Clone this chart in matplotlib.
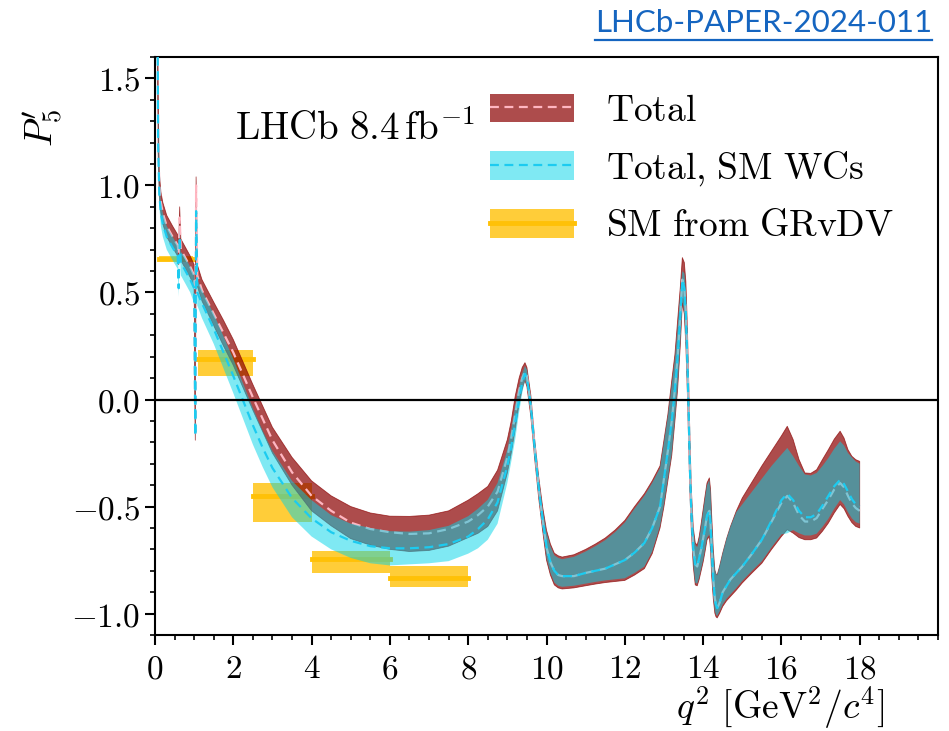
import numpy as np
import matplotlib
matplotlib.use("Agg")
import matplotlib.pyplot as plt
from matplotlib.patches import Patch
from matplotlib.lines import Line2D
from matplotlib.ticker import MultipleLocator, FuncFormatter, FixedLocator

plt.rcParams['mathtext.fontset'] = 'cm'
plt.rcParams['font.family'] = ['DejaVu Serif']

# ---------------- data ----------------
q2 = [0.05, 0.08, 0.11, 0.15, 0.2, 0.3, 0.45, 0.58, 0.605, 0.63, 0.66, 0.75, 0.9, 1.0,
      1.03, 1.05, 1.08, 1.2, 1.5, 1.75, 2.0, 2.25, 2.5, 2.75, 3.0, 3.5, 4.0, 4.5, 5.0, 5.5,
      6.0, 6.5, 7.0, 7.5, 8.0, 8.25, 8.5, 8.75, 9.0, 9.1, 9.2, 9.3, 9.38, 9.45, 9.5, 9.6,
      9.7, 9.8, 9.9, 10.0, 10.1, 10.2, 10.3, 10.4, 10.7, 11.0, 11.25, 11.5, 11.75, 12.0,
      12.25, 12.5, 12.7, 12.9, 13.0, 13.1, 13.2, 13.28, 13.35, 13.42, 13.47, 13.52, 13.56,
      13.6, 13.63, 13.66, 13.7, 13.75, 13.8, 13.85, 13.9, 13.95, 14.0, 14.05, 14.1, 14.16,
      14.19, 14.22, 14.26, 14.3, 14.33, 14.36, 14.42, 14.5, 14.6, 14.7, 14.85, 15.0, 15.25,
      15.5, 15.75, 16.0, 16.15, 16.3, 16.45, 16.6, 16.75, 16.9, 17.05, 17.2, 17.35, 17.5,
      17.6, 17.7, 17.8, 17.9, 18.0]

total_c = [2.4, 1.25, 1.00, 0.92, 0.87, 0.81, 0.76, 0.72, 0.68, 0.85, 0.70, 0.67, 0.62, 0.58,
           -0.17, 1.00, 0.58, 0.51, 0.40, 0.31, 0.22, 0.115, 0.01, -0.09, -0.19, -0.34, -0.45, -0.52, -0.575, -0.605,
           -0.62, -0.628, -0.625, -0.605, -0.57, -0.54, -0.50, -0.43, -0.27, -0.18, -0.07, 0.04, 0.10, 0.13, 0.11, -0.03,
           -0.23, -0.41, -0.56, -0.69, -0.76, -0.80, -0.82, -0.825, -0.825, -0.81, -0.80, -0.79, -0.77, -0.75,
           -0.715, -0.67, -0.60, -0.50, -0.37, -0.24, -0.10, 0.05, 0.20, 0.40, 0.56, 0.52, 0.40,
           0.17, -0.05, -0.30, -0.53, -0.70, -0.77, -0.78, -0.74, -0.70, -0.65, -0.60, -0.54, -0.52,
           -0.58, -0.70, -0.84, -0.93, -0.96, -0.975, -0.95, -0.90, -0.87, -0.84, -0.81, -0.78, -0.72,
           -0.655, -0.57, -0.483, -0.45, -0.483, -0.54, -0.57, -0.57, -0.554, -0.51, -0.468, -0.42, -0.39,
           -0.41, -0.45, -0.485, -0.507, -0.52]
total_lo = [2.3, 1.15, 0.95, 0.87, 0.82, 0.76, 0.71, 0.67, 0.63, 0.78, 0.65, 0.62, 0.57, 0.53,
            -0.19, 0.95, 0.53, 0.46, 0.345, 0.25, 0.16, 0.055, -0.05, -0.15, -0.25, -0.40, -0.52, -0.59, -0.65, -0.68,
            -0.70, -0.71, -0.705, -0.685, -0.645, -0.625, -0.593, -0.52, -0.343, -0.25, -0.14, -0.02, 0.05, 0.09, 0.06, -0.08,
            -0.28, -0.46, -0.61, -0.75, -0.82, -0.866, -0.88, -0.885, -0.88, -0.87, -0.862, -0.855, -0.85, -0.845,
            -0.82, -0.79, -0.72, -0.60, -0.50, -0.38, -0.26, -0.10, 0.05, 0.26, 0.45, 0.40, 0.25,
            0.02, -0.20, -0.42, -0.62, -0.78, -0.866, -0.87, -0.84, -0.80, -0.76, -0.71, -0.655, -0.64,
            -0.70, -0.827, -0.93, -0.998, -1.015, -1.02, -1.0, -0.967, -0.94, -0.92, -0.89, -0.857, -0.81,
            -0.765, -0.70, -0.64, -0.608, -0.624, -0.645, -0.655, -0.655, -0.647, -0.615, -0.577, -0.53, -0.49,
            -0.51, -0.546, -0.575, -0.593, -0.60]
total_hi = [2.5, 1.40, 1.06, 0.97, 0.92, 0.86, 0.81, 0.77, 0.72, 0.90, 0.75, 0.72, 0.67, 0.63,
            -0.15, 1.04, 0.63, 0.56, 0.455, 0.37, 0.28, 0.175, 0.07, -0.03, -0.13, -0.27, -0.38, -0.45, -0.50, -0.53,
            -0.545, -0.546, -0.54, -0.52, -0.47, -0.44, -0.406, -0.33, -0.187, -0.10, 0.015, 0.10, 0.15, 0.172, 0.15, 0.02,
            -0.19, -0.36, -0.50, -0.61, -0.675, -0.718, -0.73, -0.736, -0.725, -0.70, -0.675, -0.647, -0.61, -0.565,
            -0.50, -0.44, -0.38, -0.31, -0.19, -0.07, 0.09, 0.21, 0.37, 0.53, 0.663, 0.64, 0.55,
            0.33, 0.10, -0.15, -0.42, -0.60, -0.67, -0.68, -0.64, -0.58, -0.515, -0.45, -0.39, -0.366,
            -0.42, -0.546, -0.70, -0.796, -0.815, -0.82, -0.78, -0.718, -0.65, -0.593, -0.52, -0.46, -0.385,
            -0.31, -0.24, -0.17, -0.125, -0.187, -0.28, -0.343, -0.345, -0.328, -0.28, -0.234, -0.185, -0.148,
            -0.18, -0.234, -0.265, -0.281, -0.289]

smwc_c = [2.35, 1.20, 0.96, 0.87, 0.82, 0.76, 0.71, 0.67, 0.52, 0.76, 0.64, 0.61, 0.56, 0.52,
          -0.17, 0.88, 0.50, 0.45, 0.33, 0.22, 0.11, -0.005, -0.12, -0.225, -0.32, -0.46, -0.555, -0.62, -0.66, -0.685,
          -0.695, -0.695, -0.69, -0.675, -0.64, -0.605, -0.56, -0.48, -0.31, -0.22, -0.11, 0.0, 0.08, 0.12, 0.10, -0.03,
          -0.23, -0.41, -0.56, -0.685, -0.76, -0.80, -0.82, -0.825, -0.825, -0.81, -0.80, -0.79, -0.77, -0.75,
          -0.715, -0.67, -0.60, -0.50, -0.37, -0.24, -0.10, 0.05, 0.20, 0.40, 0.56, 0.52, 0.40,
          0.17, -0.05, -0.30, -0.53, -0.70, -0.77, -0.78, -0.74, -0.70, -0.65, -0.60, -0.54, -0.52,
          -0.58, -0.70, -0.84, -0.93, -0.96, -0.975, -0.95, -0.90, -0.87, -0.84, -0.81, -0.78, -0.72,
          -0.655, -0.565, -0.47, -0.44, -0.47, -0.52, -0.55, -0.55, -0.535, -0.495, -0.45, -0.405, -0.375,
          -0.395, -0.43, -0.465, -0.49, -0.50]
smwc_lo = [2.2, 1.08, 0.90, 0.81, 0.76, 0.70, 0.65, 0.61, 0.48, 0.72, 0.58, 0.55, 0.50, 0.45,
           -0.19, 0.84, 0.44, 0.38, 0.26, 0.145, 0.03, -0.09, -0.21, -0.315, -0.41, -0.55, -0.64, -0.70, -0.74, -0.765,
           -0.775, -0.77, -0.765, -0.755, -0.72, -0.695, -0.655, -0.58, -0.39, -0.29, -0.187, -0.06, 0.03, 0.09, 0.07, -0.07,
           -0.27, -0.45, -0.60, -0.74, -0.81, -0.855, -0.87, -0.875, -0.87, -0.86, -0.852, -0.845, -0.84, -0.835,
           -0.81, -0.78, -0.71, -0.59, -0.49, -0.37, -0.25, -0.09, 0.06, 0.27, 0.46, 0.41, 0.26,
           0.03, -0.19, -0.41, -0.61, -0.77, -0.856, -0.86, -0.83, -0.79, -0.75, -0.70, -0.645, -0.63,
           -0.69, -0.817, -0.92, -0.988, -1.005, -1.01, -0.99, -0.957, -0.93, -0.91, -0.88, -0.847, -0.80,
           -0.755, -0.69, -0.63, -0.625, -0.61, -0.625, -0.635, -0.635, -0.627, -0.595, -0.557, -0.51, -0.47,
           -0.49, -0.526, -0.555, -0.573, -0.58]
smwc_hi = [2.5, 1.35, 1.02, 0.92, 0.87, 0.81, 0.76, 0.72, 0.56, 0.80, 0.69, 0.67, 0.62, 0.58,
           -0.15, 0.91, 0.56, 0.51, 0.40, 0.295, 0.19, 0.075, -0.04, -0.145, -0.24, -0.38, -0.47, -0.54, -0.58, -0.60,
           -0.615, -0.617, -0.61, -0.59, -0.545, -0.51, -0.468, -0.39, -0.234, -0.14, -0.03, 0.06, 0.12, 0.156, 0.14, 0.01,
           -0.20, -0.37, -0.51, -0.62, -0.685, -0.728, -0.74, -0.746, -0.735, -0.71, -0.685, -0.657, -0.62, -0.575,
           -0.51, -0.45, -0.39, -0.32, -0.20, -0.08, 0.07, 0.19, 0.34, 0.50, 0.60, 0.59, 0.51,
           0.30, 0.08, -0.16, -0.43, -0.61, -0.68, -0.69, -0.65, -0.59, -0.525, -0.46, -0.40, -0.376,
           -0.43, -0.556, -0.705, -0.796, -0.815, -0.82, -0.78, -0.718, -0.65, -0.593, -0.525, -0.49, -0.43,
           -0.37, -0.31, -0.257, -0.226, -0.265, -0.31, -0.35, -0.355, -0.343, -0.31, -0.273, -0.23, -0.195,
           -0.215, -0.25, -0.27, -0.29, -0.30]

bin_lo = [0.1, 1.1, 2.5, 4.0, 6.0]
bin_hi = [0.98, 2.5, 4.0, 6.0, 8.0]
sm_c = [0.655, 0.19, -0.449, -0.744, -0.833]
sm_lo = [0.645, 0.108, -0.571, -0.81, -0.876]
sm_hi = [0.67, 0.229, -0.389, -0.707, -0.777]

# ---------------- figure ----------------
W, H = 949, 731
fig = plt.figure(figsize=(W / 100, H / 100), dpi=100)
ax = fig.add_axes([155 / W, 1 - 635 / H, (938 - 155) / W, (635 - 57) / H])

red = 'darkred'
cyan = '#00d4e8'
amber = '#ffc107'
pink = 'lightpink'
cyline = '#1ccbf0'
dash = (0, (4, 2.5))

for a, b, c, lo, hi in zip(bin_lo, bin_hi, sm_c, sm_lo, sm_hi):
    ax.fill_between([a, b], [lo, lo], [hi, hi], color=amber, alpha=0.8, lw=0, zorder=1)
    ax.plot([a, b], [c, c], color=amber, lw=3.5, solid_capstyle='projecting', zorder=1.5)

ax.fill_between(q2, total_lo, total_hi, color=red, alpha=0.7, lw=0.6, zorder=2)
ax.plot(q2, total_c, color=pink, ls=dash, lw=1.6, zorder=3)
ax.fill_between(q2, smwc_lo, smwc_hi, color=cyan, alpha=0.5, lw=0, zorder=4)
ax.plot(q2, smwc_c, color=cyline, ls=dash, lw=1.6, zorder=5)

ax.axhline(0, color='black', lw=1.6, zorder=6)

ax.set_xlim(0, 20)
ax.set_ylim(-1.1, 1.6)

ax.xaxis.set_major_locator(FixedLocator(list(range(0, 19, 2))))
ax.xaxis.set_minor_locator(MultipleLocator(0.5))
ax.yaxis.set_major_locator(MultipleLocator(0.5))
ax.yaxis.set_minor_locator(MultipleLocator(0.1))
ax.xaxis.set_major_formatter(FuncFormatter(lambda v, p: r'$%d$' % int(round(v))))
ax.yaxis.set_major_formatter(FuncFormatter(lambda v, p: r'$%.1f$' % v))
ax.tick_params(which='major', length=7, width=1.5, labelsize=24, direction='out')
ax.tick_params(which='minor', length=3.5, width=1.2, direction='out')
ax.tick_params(axis='x', pad=6)
for s in ax.spines.values():
    s.set_linewidth(1.5)

ax.set_xlabel(r'$q^2\ [\mathrm{GeV}^2/c^4]$', fontsize=27, loc='right')
ax.xaxis.set_label_coords(0.932, -0.085)
ax.set_ylabel(r"$P_5'$", fontsize=27, loc='top')
ax.yaxis.set_label_coords(-0.115, 0.91)

ax.text(0.102, 0.856, r'$\mathrm{LHCb}\ 8.4\,\mathrm{fb}^{-1}$', transform=ax.transAxes,
        fontsize=28, ha='left', va='baseline')

h_total = (Patch(facecolor=red, alpha=0.7, lw=0), Line2D([], [], color=pink, ls=dash, lw=1.6))
h_sm = (Patch(facecolor=cyan, alpha=0.5, lw=0), Line2D([], [], color=cyline, ls=dash, lw=1.6))
h_gr = (Patch(facecolor=amber, alpha=0.8, lw=0), Line2D([], [], color=amber, lw=3.5))
leg = ax.legend([h_total, h_sm, h_gr],
                [r'$\mathrm{Total}$', r'$\mathrm{Total}{,}\ \mathrm{SM\ WCs}$', r'$\mathrm{SM\ from\ GRvDV}$'],
                loc='upper left', bbox_to_anchor=((490 - 155) / 783, (635 - 93) / 578),
                fontsize=27, frameon=False, handlelength=2.25, handleheight=0.8,
                handletextpad=0.85, labelspacing=0.54, borderpad=0, borderaxespad=0)

# top-right reference label, underlined
t = fig.text(932 / W, 1 - 23 / H, 'LHCb-PAPER-2024-011', fontsize=22.5, color='#1565c0',
             family=['Lato', 'DejaVu Sans'], ha='right', va='center')
fig.canvas.draw()
bb = t.get_window_extent().transformed(fig.transFigure.inverted())
fig.add_artist(Line2D([bb.x0, bb.x1], [1 - 40 / H, 1 - 40 / H], transform=fig.transFigure,
                      color='#1565c0', lw=1.6))

fig.savefig('out.png', dpi=100)
